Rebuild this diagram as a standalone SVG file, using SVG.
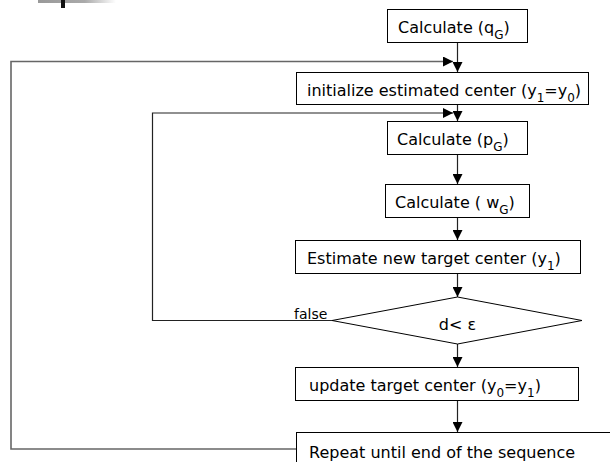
<svg xmlns="http://www.w3.org/2000/svg" width="610" height="462" viewBox="0 0 610 462">
<defs>
<linearGradient id="bar" x1="0" y1="0" x2="1" y2="0">
<stop offset="0" stop-color="#999"/>
<stop offset="0.6" stop-color="#aaa"/>
<stop offset="1" stop-color="#fff"/>
</linearGradient>
<marker id="ah" viewBox="0 0 10 10" refX="10" refY="5" markerWidth="10" markerHeight="10" markerUnits="userSpaceOnUse" orient="auto">
<path d="M0,0 L10,5 L0,10 Z" fill="#000"/>
</marker>
<style>
.box{fill:#fff;stroke:#000;stroke-width:1}
.t{font-family:"DejaVu Sans",Verdana,sans-serif;font-size:16px;fill:#000}
.sub{font-size:12px}
.c{fill:none;stroke:#222;stroke-width:1.2}
.loop{fill:none;stroke:#666;stroke-width:1.6}
</style>
</defs>
<rect width="610" height="462" fill="#fff"/>
<g id="decor">
<rect x="38" y="0" width="78" height="3" fill="url(#bar)"/>
<rect x="61" y="0" width="4" height="8" fill="#111"/>
</g>
<g id="connectors">
<line class="c" x1="457.5" y1="42" x2="457.5" y2="72" marker-end="url(#ah)"/>
<polyline class="loop" points="296,449 11,449 11,61.5 453,61.5" marker-end="url(#ah)"/>
<line class="c" x1="457.5" y1="104" x2="457.5" y2="121" marker-end="url(#ah)"/>
<polyline class="c" points="332,320.5 152.5,320.5 152.5,113 453,113" marker-end="url(#ah)"/>
<line class="c" x1="457.5" y1="154" x2="457.5" y2="184" marker-end="url(#ah)"/>
<line class="c" x1="457.5" y1="218" x2="457.5" y2="240" marker-end="url(#ah)"/>
<line class="c" x1="457.5" y1="273" x2="457.5" y2="297" marker-end="url(#ah)"/>
<line class="c" x1="457.5" y1="344" x2="457.5" y2="367" marker-end="url(#ah)"/>
<line class="c" x1="457.5" y1="400" x2="457.5" y2="432" marker-end="url(#ah)"/>
<text class="t" x="294" y="319" style="font-size:14px">false</text>
</g>
<g id="calc_q">
<rect class="box" x="387.5" y="9.5" width="140" height="33"/>
<text class="t" x="398" y="33">Calculate (q<tspan class="sub" dy="6">G</tspan><tspan dy="-6">)</tspan></text>
</g>
<g id="init_center">
<rect class="box" x="296.5" y="72.5" width="292" height="32"/>
<text class="t" x="307" y="96">initialize estimated center (y<tspan class="sub" dy="6">1</tspan><tspan dy="-6">=y</tspan><tspan class="sub" dy="6">0</tspan><tspan dy="-6">)</tspan></text>
</g>
<g id="calc_p">
<rect class="box" x="387.5" y="121.5" width="140" height="33"/>
<text class="t" x="397" y="145">Calculate (p<tspan class="sub" dy="6">G</tspan><tspan dy="-6">)</tspan></text>
</g>
<g id="calc_w">
<rect class="box" x="385.5" y="184.5" width="144" height="33"/>
<text class="t" x="395" y="208">Calculate ( w<tspan class="sub" dy="6">G</tspan><tspan dy="-6">)</tspan></text>
</g>
<g id="estimate">
<rect class="box" x="295.5" y="240.5" width="285" height="33"/>
<text class="t" x="307" y="264">Estimate new target center (y<tspan class="sub" dy="6">1</tspan><tspan dy="-6">)</tspan></text>
</g>
<g id="decision">
<polygon class="box" points="332,320.5 457.5,297 582,320.5 457.5,344"/>
<text class="t" x="457.5" y="330" text-anchor="middle">d&lt; ε</text>
</g>
<g id="update">
<rect class="box" x="295.5" y="367.5" width="283" height="33"/>
<text class="t" x="309" y="391">update target center (y<tspan class="sub" dy="6">0</tspan><tspan dy="-6">=y</tspan><tspan class="sub" dy="6">1</tspan><tspan dy="-6">)</tspan></text>
</g>
<g id="repeat">
<rect class="box" x="296.5" y="432.5" width="330" height="40"/>
<text class="t" x="309" y="458">Repeat until end of the sequence</text>
</g>
</svg>
